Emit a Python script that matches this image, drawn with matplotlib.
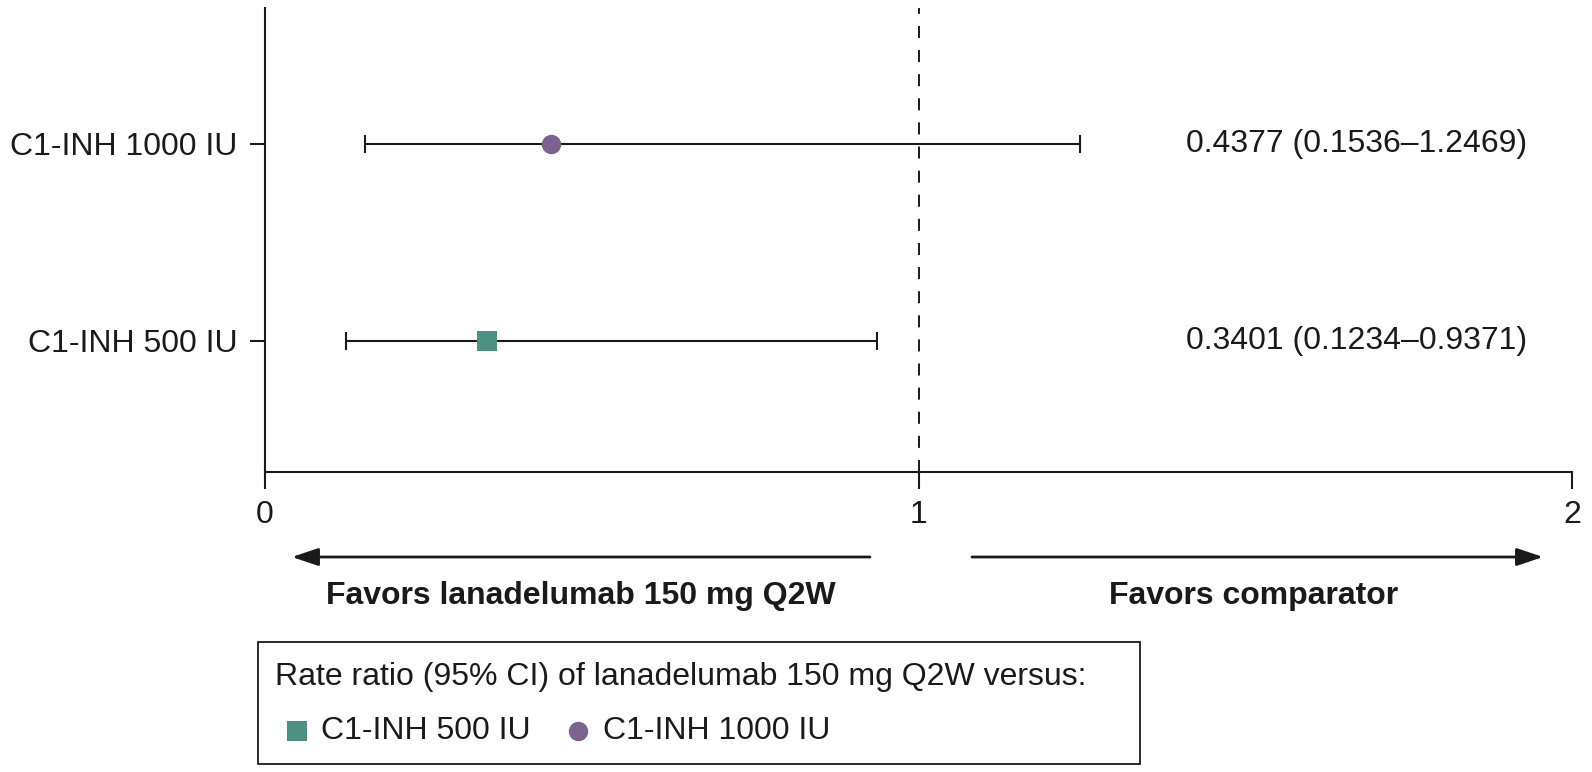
import matplotlib
matplotlib.use("Agg")
import matplotlib.pyplot as plt
from matplotlib.lines import Line2D
from matplotlib.patches import Rectangle, FancyArrowPatch

# ---- data ----
categories = ["C1-INH 500 IU", "C1-INH 1000 IU"]
rate_ratio = [0.3401, 0.4377]
ci_low = [0.1234, 0.1536]
ci_high = [0.9371, 1.2469]
marker_colors = ["#4E9183", "#7B6290"]
marker_shapes = ["s", "o"]
x_ticks = [0, 1, 2]
favors_left = "Favors lanadelumab 150 mg Q2W"
favors_right = "Favors comparator"
legend_title = "Rate ratio (95% CI) of lanadelumab 150 mg Q2W versus:"

plt.rcParams["font.family"] = ["Liberation Sans", "DejaVu Sans"]
plt.rcParams["font.size"] = 23

W, H = 1592, 772
fig = plt.figure(figsize=(W / 100, H / 100), dpi=100)

def fx(px):
    return px / W

def fy(py):
    return (H - py) / H

ax = fig.add_axes([fx(265), fy(471.7), fx(1572) - fx(265), fy(8) - fy(471.7)])

ypos = list(range(1, len(categories) + 1))
line_col = "#1a1a1a"
for i, y in enumerate(ypos):
    rr = rate_ratio[i]
    ax.errorbar(rr, y, xerr=[[rr - ci_low[i]], [ci_high[i] - rr]],
                fmt="none", ecolor=line_col, elinewidth=1.5,
                capsize=6.8, capthick=1.5, zorder=2)
    ax.plot(rr, y, marker=marker_shapes[i], color=marker_colors[i],
            markersize=14, linestyle="none", markeredgewidth=0, zorder=3)
    ax.text(1.409, y, f"{rr:.4f} ({ci_low[i]:.4f}\u2013{ci_high[i]:.4f})",
            ha="left", va="center", color="#1a1a1a")

ax.axvline(1, color=line_col, lw=1.4, linestyle=(0, (6.2, 6.2)), zorder=1)

ax.set_xlim(0, 2)
ax.set_ylim(0.3365, 2.69)
ax.set_xticks(x_ticks)
ax.set_xticklabels([str(t) for t in x_ticks])
ax.set_yticks(ypos)
ax.set_yticklabels(categories)
ax.tick_params(axis="x", direction="out", length=12, width=1.5, pad=8.5,
               colors=line_col)
ax.tick_params(axis="y", direction="out", length=11, width=1.5, pad=9,
               colors=line_col)
for s in ["top", "right"]:
    ax.spines[s].set_visible(False)
for s in ["left", "bottom"]:
    ax.spines[s].set_linewidth(1.5)
    ax.spines[s].set_color(line_col)

# ---- direction arrows ----
ay = fy(557)
for x0, x1 in [(870, 292), (972, 1543)]:
    arr = FancyArrowPatch((fx(x0), ay), (fx(x1), ay), transform=fig.transFigure,
                          arrowstyle="-|>,head_length=0.8,head_width=0.27",
                          mutation_scale=20, lw=2, color="#1a1a1a",
                          shrinkA=0, shrinkB=0)
    fig.add_artist(arr)

fig.text(fx(581), fy(596), favors_left, ha="center", va="center",
         fontweight="bold", color="#1a1a1a")
fig.text(fx(1254), fy(596), favors_right, ha="center", va="center",
         fontweight="bold", color="#1a1a1a")

# ---- legend box ----
fig.add_artist(Rectangle((fx(258), fy(764)), fx(1140) - fx(258), fy(642) - fy(764),
                         transform=fig.transFigure, fill=False,
                         edgecolor="#1a1a1a", lw=1.3))
fig.text(fx(275), fy(677), legend_title, ha="left", va="center", color="#1a1a1a")
leg_marker_x = [297, 578]
leg_text_x = [321, 603]
for i in range(len(categories)):
    fig.add_artist(Line2D([fx(leg_marker_x[i])], [fy(731)], marker=marker_shapes[i],
                          color=marker_colors[i], markersize=14 if i == 0 else 14,
                          markeredgewidth=0, linestyle="none",
                          transform=fig.transFigure))
    fig.text(fx(leg_text_x[i]), fy(731), categories[i], ha="left", va="center",
             color="#1a1a1a")

fig.savefig("out.png", dpi=100)
